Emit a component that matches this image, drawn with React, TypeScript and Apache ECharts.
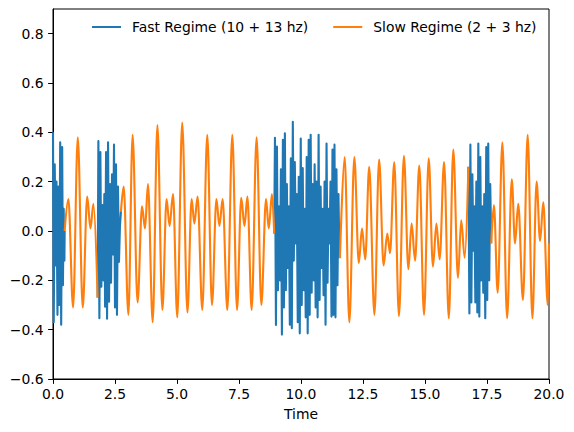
import { useEffect, useRef } from "react";
import * as echarts from "echarts";

const FAST_NAME = "Fast Regime (10 + 13 hz)";
const SLOW_NAME = "Slow Regime (2 + 3 hz)";
const BLUE = "#1f77b4";
const ORANGE = "#ff7f0e";
const FONT = "DejaVu Sans";
const FONT_SIZE = 13.9;

const xTicks = [0, 2.5, 5, 7.5, 10, 12.5, 15, 17.5, 20];
const yTicks = [-0.6, -0.4, -0.2, 0, 0.2, 0.4, 0.6, 0.8];

// Fast regime stretches: [time, amplitude]
const fastA = [
  [0.0, 0.4], [0.03, -0.37], [0.07, 0.27], [0.11, -0.14], [0.14, 0.2],
  [0.18, -0.34], [0.21, 0.18], [0.25, -0.3], [0.29, 0.36], [0.33, -0.38],
  [0.37, 0.34], [0.4, -0.22], [0.43, 0.09], [0.46, -0.12], [0.47, 0.0],
];

const fastB = [
  [1.8, -0.27], [1.83, 0.365], [1.87, -0.354], [1.91, 0.32], [1.95, -0.226],
  [1.99, 0.105], [2.03, -0.2], [2.07, 0.15], [2.1, -0.307], [2.14, 0.32],
  [2.18, -0.356], [2.22, 0.36], [2.26, -0.287], [2.3, 0.19], [2.34, -0.21],
  [2.38, 0.23], [2.42, -0.095], [2.46, 0.35], [2.5, -0.31], [2.54, 0.27],
  [2.58, -0.34], [2.62, 0.18], [2.66, -0.125], [2.7, 0.02], [2.74, 0.08],
];

const fastC = [
  [8.92, -0.01], [8.95, 0.378], [8.99, -0.381], [9.03, 0.342], [9.07, -0.24],
  [9.11, 0.1], [9.15, -0.2], [9.19, 0.25], [9.23, -0.42], [9.27, 0.37],
  [9.31, -0.31], [9.35, 0.396], [9.39, -0.24], [9.43, 0.19], [9.47, -0.15],
  [9.51, 0.1], [9.55, -0.38], [9.59, 0.295], [9.63, -0.394], [9.67, 0.443],
  [9.71, -0.12], [9.75, 0.28], [9.79, -0.05], [9.83, 0.15], [9.87, -0.37],
  [9.91, 0.22], [9.95, -0.415], [9.99, 0.375], [10.03, -0.3], [10.07, 0.255],
  [10.11, -0.24], [10.15, 0.09], [10.19, -0.35], [10.23, 0.3], [10.27, -0.415],
  [10.31, 0.37], [10.35, -0.34], [10.39, 0.39], [10.43, -0.25], [10.47, 0.19],
  [10.51, -0.2], [10.55, 0.27], [10.59, -0.31], [10.63, 0.2], [10.67, -0.35],
  [10.71, 0.39], [10.75, -0.28], [10.79, 0.18], [10.83, -0.15], [10.87, 0.09],
  [10.91, -0.26], [10.95, 0.2], [10.99, -0.38], [11.03, 0.355], [11.07, -0.21],
  [11.11, 0.09], [11.15, -0.05], [11.19, 0.2], [11.23, -0.347], [11.27, 0.33],
  [11.31, -0.34], [11.35, 0.35], [11.39, -0.35], [11.43, 0.25], [11.47, -0.22],
  [11.51, 0.15], [11.55, -0.11], [11.57, -0.11],
];

const fastD = [
  [16.75, 0.26], [16.79, -0.334], [16.83, 0.35], [16.87, -0.29], [16.91, 0.23],
  [16.95, -0.08], [16.99, 0.1], [17.03, -0.29], [17.07, 0.2], [17.11, -0.33],
  [17.15, 0.355], [17.19, -0.347], [17.23, 0.3], [17.27, -0.2], [17.31, 0.1],
  [17.35, -0.25], [17.39, 0.15], [17.43, -0.354], [17.47, 0.34], [17.51, -0.28],
  [17.55, 0.355], [17.59, -0.2], [17.63, 0.19], [17.67, -0.05],
];

// Slow regime stretches: turning points [time, amplitude]
const slowA = [
  [0.47, 0.0], [0.62, 0.13], [0.81, -0.31], [1.0, 0.38], [1.2, -0.31],
  [1.38, 0.14], [1.51, 0.01], [1.63, 0.11], [1.8, -0.27],
];

const slowB = [
  [2.74, 0.08], [2.85, 0.18], [3.04, -0.34], [3.21, 0.39], [3.41, -0.29],
  [3.59, 0.1], [3.71, 0.01], [3.83, 0.19], [4.02, -0.37], [4.21, 0.43],
  [4.41, -0.32], [4.58, 0.13], [4.7, 0.02], [4.84, 0.15], [5.01, -0.35],
  [5.21, 0.44], [5.42, -0.33], [5.59, 0.13], [5.7, 0.03], [5.83, 0.14],
  [6.02, -0.32], [6.22, 0.39], [6.41, -0.3], [6.59, 0.13], [6.71, 0.02],
  [6.84, 0.13], [7.03, -0.32], [7.23, 0.39], [7.42, -0.32], [7.59, 0.135],
  [7.72, 0.02], [7.84, 0.14], [8.01, -0.32], [8.21, 0.38], [8.4, -0.3],
  [8.59, 0.13], [8.7, 0.01], [8.83, 0.15], [8.92, -0.01],
];

const slowC = [
  [11.57, -0.11], [11.76, 0.3], [11.95, -0.37], [12.15, 0.3], [12.33, -0.13],
  [12.46, 0.01], [12.59, -0.115], [12.75, 0.26], [12.96, -0.34], [13.15, 0.29],
  [13.33, -0.14], [13.48, -0.01], [13.59, -0.09], [13.76, 0.28], [13.95, -0.345],
  [14.15, 0.305], [14.33, -0.155], [14.46, 0.03], [14.6, -0.12], [14.77, 0.265],
  [14.96, -0.34], [15.15, 0.295], [15.32, -0.145], [15.46, 0.03], [15.59, -0.115],
  [15.77, 0.28], [15.96, -0.354], [16.14, 0.33], [16.33, -0.19], [16.46, 0.043],
  [16.6, -0.108], [16.75, 0.26],
];

const slowD = [
  [17.67, -0.05], [17.78, 0.105], [17.93, -0.25], [18.12, 0.36], [18.31, -0.354],
  [18.5, 0.21], [18.63, -0.05], [18.76, 0.11], [18.95, -0.28], [19.14, 0.39],
  [19.33, -0.354], [19.5, 0.2], [19.64, -0.04], [19.77, 0.116], [19.95, -0.3],
  [20.0, -0.05],
];

const fastSegments = [fastA, fastB, fastC, fastD];
const slowSegments = [slowA, slowB, slowC, slowD];

const minus = (s: string) => s.replace("-", "\u2212");

export default function App() {
  const ref = useRef<HTMLDivElement>(null);

  useEffect(() => {
    if (!ref.current) return;
    const chart = echarts.init(ref.current, undefined, { renderer: "svg" });

    const fastSeries = fastSegments.map((seg) => ({
      type: "line",
      name: FAST_NAME,
      data: seg,
      symbol: "none",
      showSymbol: false,
      smooth: false,
      color: BLUE,
      lineStyle: { color: BLUE, width: 2.1, join: "round" },
      z: 2,
    }));

    const slowSeries = slowSegments.map((seg) => ({
      type: "line",
      name: SLOW_NAME,
      data: seg,
      symbol: "none",
      showSymbol: false,
      smooth: 0.35,
      smoothMonotone: "x",
      color: ORANGE,
      lineStyle: { color: ORANGE, width: 2.1, join: "round" },
      z: 3,
    }));

    chart.setOption({
      animation: false,
      backgroundColor: "#ffffff",
      textStyle: { fontFamily: FONT },
      grid: {
        left: 53,
        right: 25,
        top: 9,
        bottom: 53,
        show: true,
        borderColor: "#000",
        borderWidth: 1,
        backgroundColor: "transparent",
      },
      legend: {
        data: [FAST_NAME, SLOW_NAME],
        left: 92,
        top: 20,
        padding: 0,
        icon: "rect",
        itemWidth: 29,
        itemHeight: 2,
        itemGap: 25,
        textStyle: {
          fontFamily: FONT,
          fontSize: FONT_SIZE,
          color: "#000",
          padding: [0, 0, 0, 6],
        },
      },
      xAxis: {
        type: "value",
        min: 0,
        max: 20,
        interval: 2.5,
        name: "Time",
        nameLocation: "middle",
        nameGap: 28,
        nameTextStyle: { fontFamily: FONT, fontSize: FONT_SIZE, color: "#000" },
        axisLine: { show: true, onZero: false, lineStyle: { color: "#000", width: 1 } },
        axisTick: {
          show: true,
          inside: false,
          length: 4.9,
          customValues: xTicks,
          lineStyle: { color: "#000", width: 1 },
        },
        axisLabel: {
          customValues: xTicks,
          margin: 8,
          fontFamily: FONT,
          fontSize: FONT_SIZE,
          color: "#000",
          formatter: (v: number) => v.toFixed(1),
        },
        splitLine: { show: false },
      },
      yAxis: {
        type: "value",
        min: -0.6,
        max: 0.9,
        axisLine: { show: true, onZero: false, lineStyle: { color: "#000", width: 1 } },
        axisTick: {
          show: true,
          inside: false,
          length: 4.9,
          customValues: yTicks,
          lineStyle: { color: "#000", width: 1 },
        },
        axisLabel: {
          customValues: yTicks,
          margin: 9.5,
          fontFamily: FONT,
          fontSize: FONT_SIZE,
          color: "#000",
          formatter: (v: number) => minus(v.toFixed(1)),
        },
        splitLine: { show: false },
      },
      series: [...fastSeries, ...slowSeries],
    });

    return () => chart.dispose();
  }, []);

  return (
    <div
      ref={ref}
      style={{ position: "fixed", left: 0, top: 0, width: 574, height: 432 }}
    />
  );
}
